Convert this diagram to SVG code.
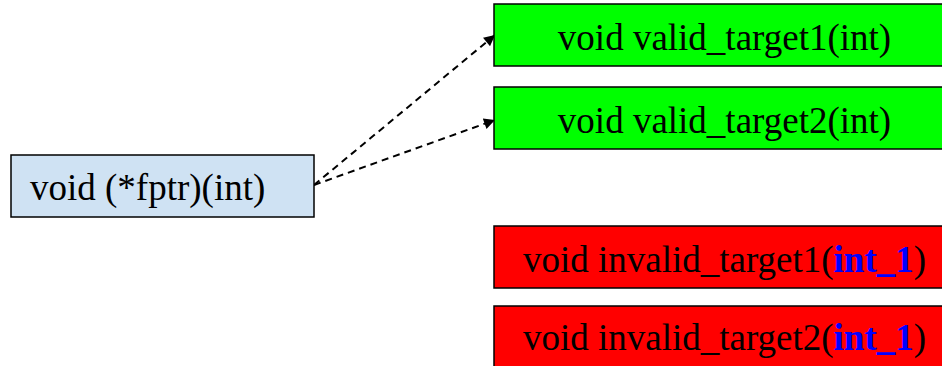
<svg xmlns="http://www.w3.org/2000/svg" width="942" height="366" viewBox="0 0 942 366">
  <style>
    .box { stroke: #000; stroke-width: 1.5; }
    .ptr { fill: #cfe2f3; }
    .ok { fill: #00ff00; }
    .bad { fill: #ff0000; }
    .lbl { font-family: "Liberation Serif", "Times New Roman", serif; font-size: 37px; fill: #000; }
    .arg { font-weight: bold; fill: #0000ff; }
    .edge { fill: none; stroke: #000; stroke-width: 2; stroke-dasharray: 7 5; }
  </style>
  <defs>
    <marker id="arrow" viewBox="0 0 10 10" refX="10" refY="5" markerWidth="6.5" markerHeight="5.5" markerUnits="strokeWidth" orient="auto">
      <path d="M0,0 L10,5 L0,10 z" fill="#000"/>
    </marker>
  </defs>

  <rect width="942" height="366" fill="#fff"/>

  <g id="connectors">
    <line class="edge" x1="314" y1="185" x2="495" y2="35" marker-end="url(#arrow)"/>
    <line class="edge" x1="314" y1="185" x2="495" y2="120" marker-end="url(#arrow)"/>
  </g>

  <g id="fptr">
    <rect class="box ptr" x="11" y="155" width="303" height="62"/>
    <text class="lbl" x="30" y="200">void (*fptr)(int)</text>
  </g>

  <g id="valid_target1">
    <rect class="box ok" x="494" y="4" width="462" height="62"/>
    <text class="lbl" x="724.5" y="50" text-anchor="middle">void valid_target1(int)</text>
  </g>

  <g id="valid_target2">
    <rect class="box ok" x="494" y="87" width="462" height="62"/>
    <text class="lbl" x="724.5" y="133" text-anchor="middle">void valid_target2(int)</text>
  </g>

  <g id="invalid_target1">
    <rect class="box bad" x="494" y="226" width="462" height="62"/>
    <text class="lbl" x="724.5" y="272" text-anchor="middle">void invalid_target1(<tspan class="arg">int_1</tspan>)</text>
  </g>

  <g id="invalid_target2">
    <rect class="box bad" x="494" y="306" width="462" height="62"/>
    <text class="lbl" x="724.5" y="350" text-anchor="middle">void invalid_target2(<tspan class="arg">int_1</tspan>)</text>
  </g>
</svg>
